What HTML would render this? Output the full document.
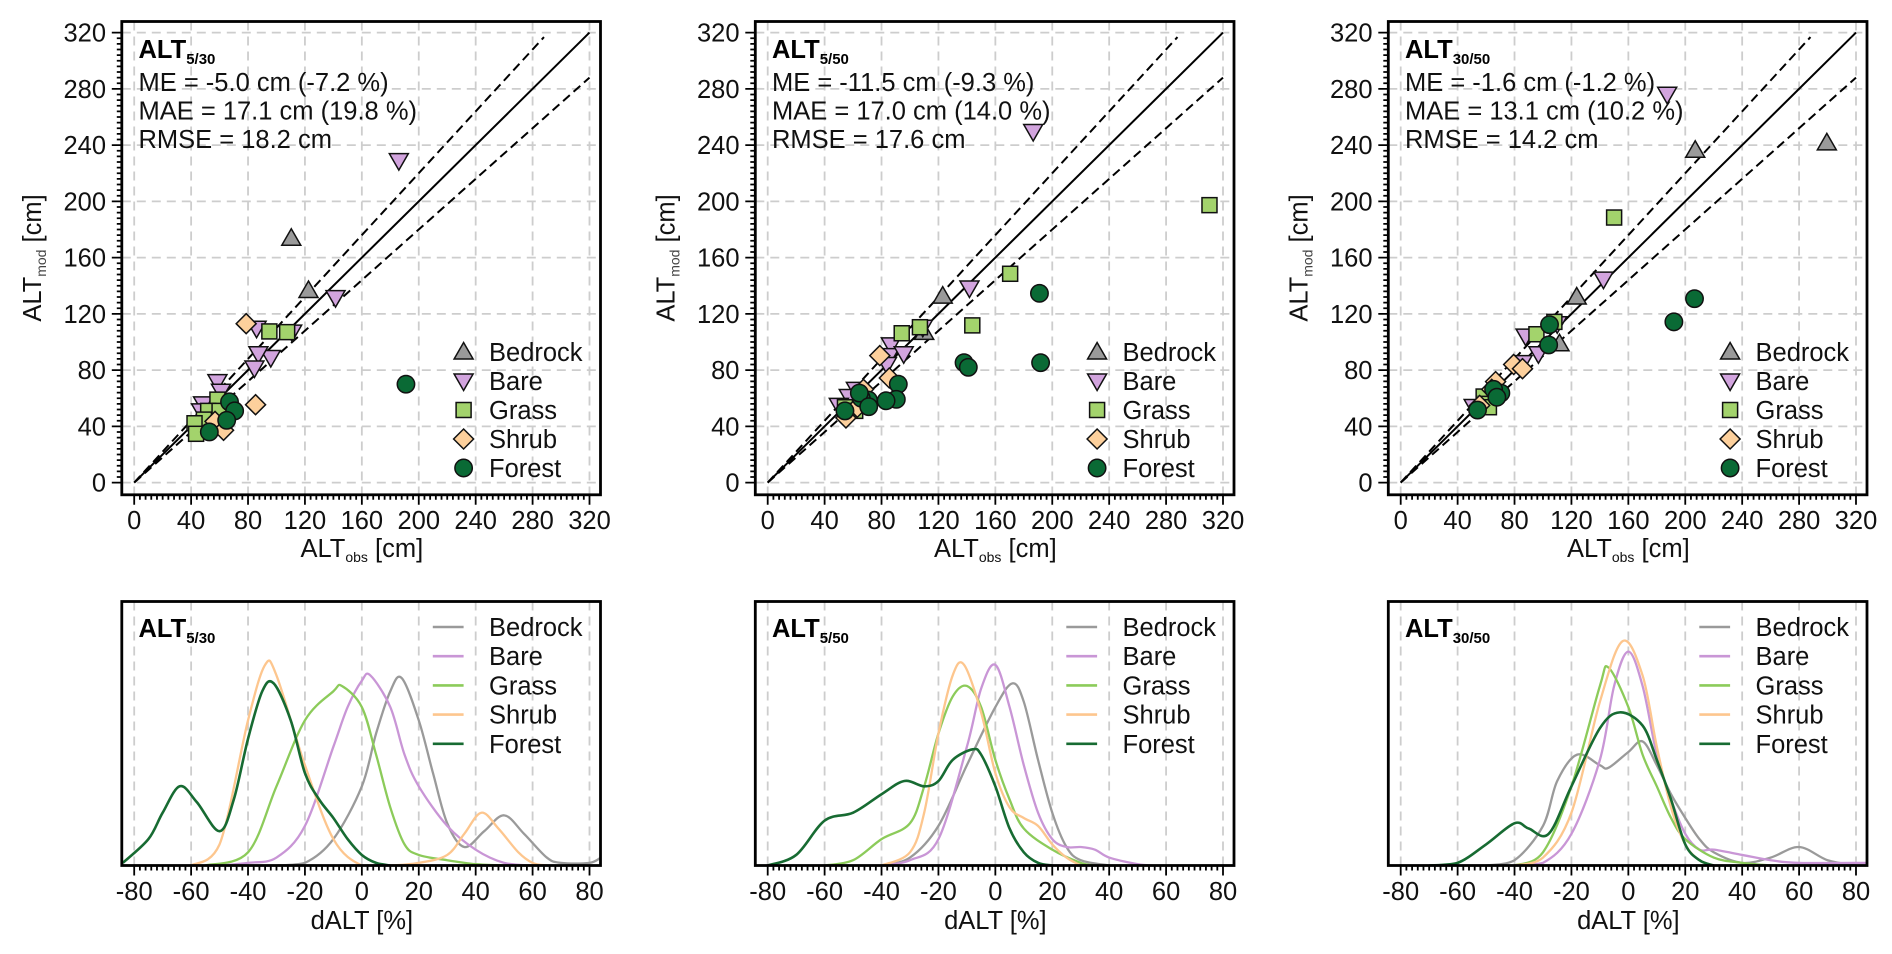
<!DOCTYPE html>
<html><head><meta charset="utf-8"><style>
html,body{margin:0;padding:0;background:#fff}
svg{display:block;font-family:"Liberation Sans",Arial,sans-serif}
</style></head><body>
<svg id="fig" width="1892" height="954" viewBox="0 0 1892 954" xmlns="http://www.w3.org/2000/svg"></svg>
<script>
// ---------- data ----------
const panelTitles = ["5/30", "5/50", "30/50"];
const statsME   = ["ME = -5.0 cm (-7.2 %)", "ME = -11.5 cm (-9.3 %)", "ME = -1.6 cm (-1.2 %)"];
const statsMAE  = ["MAE = 17.1 cm (19.8 %)", "MAE = 17.0 cm (14.0 %)", "MAE = 13.1 cm (10.2 %)"];
const statsRMSE = ["RMSE = 18.2 cm", "RMSE = 17.6 cm", "RMSE = 14.2 cm"];
const classes = ["Bedrock", "Bare", "Grass", "Shrub", "Forest"];
const scatterTicks = [0,40,80,120,160,200,240,280,320];
const densTicks = [-80,-60,-40,-20,0,20,40,60,80];

const p1Bedrock = [[110.4,173.8],[122.5,136.6]];
const p1Bare = [[186,229],[141.5,131.5],[86,109.8],[96,89],[87.3,91.6],[84.5,81.5],[58.5,71.8],[61,65],[48.4,56],[47,51],[111,107]];
const p1Grass = [[95,107.5],[107.5,107],[58.5,59],[52,51],[49,44.8],[42.4,42.2],[43.5,34.7],[60,51]];
const p1Shrub = [[78.7,113],[85.3,55.4],[56.8,43.5],[62.8,37.2]];
const p1Forest = [[191,70],[67,57.4],[70.6,51],[65,44.3],[52.8,36]];

const p2Bedrock = [[123,132.6],[110,106.8]];
const p2Bare = [[186.6,249.7],[141.8,138.4],[86.6,97.9],[85.5,90.3],[95.6,91.6],[83.8,84],[109,110.5],[62,66.3],[57,61.2],[50,54.9]];
const p2Grass = [[310.5,197.3],[170.4,148.5],[143.8,111.8],[94.2,106.2],[107,110.5],[54.3,53.6],[61.5,51]];
const p2Shrub = [[78.8,90.3],[85.5,74.4],[67.3,66.3],[55,46],[63,53.6]];
const p2Forest = [[191,134.6],[191.8,85.3],[138,85.3],[141,82],[91.8,70],[90.4,59.2],[83.2,58.2],[70.8,58.7],[65.8,60],[64.4,63.7],[71,54],[54.3,51]];

const p3Bedrock = [[299.5,241.6],[207,236.3],[123.7,132],[111.6,98.7]];
const p3Bare = [[187.3,276.2],[142.5,144.7],[87.8,104.2],[96.8,91.6],[85.6,85.3],[110,113],[51.3,54.1]];
const p3Grass = [[150,188.5],[95.4,105.5],[108,114.3],[58.3,61.2],[59.7,56],[62,53.6]];
const p3Shrub = [[79.4,84],[85.6,81],[66.7,71.8],[64,66.3],[55.5,54.9]];
const p3Forest = [[192,114.3],[206.5,130.8],[104.6,112.3],[104,97.9],[70.4,63.7],[65.3,66.3],[67.6,60.7],[54,51.6]];

const d1Bedrock = [[-30,0],[-20,0.01],[-10,0.1],[0,0.3],[5,0.5],[10,0.66],[14,0.71],[20,0.55],[25,0.35],[30,0.16],[36,0.07],[43,0.13],[50,0.19],[57,0.12],[65,0.03],[70,0.01],[80,0.01],[84,0.03]];
const d1Bare = [[-50,0],[-40,0.01],[-30,0.03],[-20,0.15],[-10,0.45],[-5,0.6],[0,0.7],[3,0.72],[10,0.6],[15,0.42],[20,0.3],[30,0.15],[40,0.06],[50,0.01],[60,0]];
const d1Grass = [[-55,0],[-40,0.05],[-30,0.3],[-20,0.55],[-10,0.66],[-7,0.68],[0,0.6],[5,0.42],[10,0.22],[15,0.08],[20,0.04],[30,0.02],[40,0.005],[50,0]];
const d1Shrub = [[-60,0],[-50,0.08],[-40,0.55],[-34,0.76],[-30,0.72],[-20,0.38],[-10,0.1],[0,0],[10,0],[20,0.01],[30,0.04],[36,0.12],[42,0.2],[48,0.14],[55,0.05],[60,0.01],[65,0]];
const d1Forest = [[-84,0.01],[-75,0.1],[-70,0.2],[-64,0.3],[-58,0.24],[-50,0.13],[-45,0.25],[-40,0.48],[-35,0.66],[-31,0.69],[-25,0.55],[-20,0.35],[-15,0.25],[-10,0.18],[-5,0.1],[0,0.04],[5,0.01],[10,0]];

const d2Bedrock = [[-40,0],[-30,0.03],[-20,0.15],[-10,0.38],[0,0.6],[6,0.69],[10,0.62],[15,0.4],[20,0.2],[25,0.07],[30,0.02],[40,0]];
const d2Bare = [[-40,0],[-30,0.02],[-20,0.1],[-10,0.45],[-5,0.67],[0,0.76],[5,0.6],[10,0.38],[15,0.2],[20,0.1],[25,0.07],[30,0.07],[35,0.06],[40,0.03],[50,0.005],[55,0]];
const d2Grass = [[-60,0],[-50,0.02],[-40,0.1],[-30,0.16],[-25,0.3],[-20,0.5],[-15,0.64],[-10,0.68],[-5,0.6],[0,0.4],[5,0.25],[10,0.14],[20,0.06],[30,0.01],[35,0]];
const d2Shrub = [[-40,0],[-30,0.05],[-25,0.2],[-20,0.5],[-15,0.72],[-11,0.76],[-5,0.58],[0,0.35],[5,0.22],[10,0.18],[15,0.15],[20,0.08],[25,0.03],[30,0]];
const d2Forest = [[-80,0],[-70,0.04],[-60,0.17],[-50,0.2],[-40,0.27],[-32,0.32],[-25,0.3],[-20,0.32],[-15,0.4],[-8,0.44],[-5,0.42],[0,0.3],[5,0.14],[10,0.05],[15,0.01],[20,0]];

const d3Bedrock = [[-50,0],[-40,0.02],[-30,0.15],[-25,0.32],[-18,0.42],[-10,0.38],[-7,0.37],[0,0.43],[5,0.47],[10,0.38],[15,0.27],[20,0.18],[25,0.1],[30,0.05],[40,0.01],[50,0.03],[60,0.07],[70,0.02],[80,0]];
const d3Bare = [[-40,0],[-30,0.01],[-20,0.12],[-10,0.4],[-5,0.68],[0,0.81],[5,0.68],[10,0.42],[15,0.25],[20,0.12],[25,0.06],[30,0.06],[40,0.04],[50,0.02],[60,0.01],[84,0.01]];
const d3Grass = [[-40,0],[-30,0.05],[-20,0.3],[-10,0.68],[-7,0.75],[0,0.6],[5,0.42],[10,0.3],[15,0.18],[20,0.1],[30,0.03],[40,0.01],[50,0]];
const d3Shrub = [[-40,0],[-30,0.03],[-20,0.2],[-10,0.62],[-2,0.85],[5,0.72],[10,0.45],[15,0.22],[20,0.08],[25,0.02],[30,0]];
const d3Forest = [[-70,0],[-60,0.01],[-50,0.08],[-40,0.16],[-35,0.14],[-28,0.12],[-20,0.3],[-10,0.52],[-3,0.58],[5,0.53],[10,0.4],[15,0.25],[20,0.08],[25,0.02],[30,0]];

const scatterData = [[p1Bedrock,p1Bare,p1Grass,p1Shrub,p1Forest],[p2Bedrock,p2Bare,p2Grass,p2Shrub,p2Forest],[p3Bedrock,p3Bare,p3Grass,p3Shrub,p3Forest]];
const densData = [[d1Bedrock,d1Bare,d1Grass,d1Shrub,d1Forest],[d2Bedrock,d2Bare,d2Grass,d2Shrub,d2Forest],[d3Bedrock,d3Bare,d3Grass,d3Shrub,d3Forest]];

// ---------- style ----------
const fillCol = ["#9a9a9a","#d2a4de","#a3d36c","#fdd09c","#0a6a35"];
const lineCol = ["#9a9a9a","#c996d6","#8ccb5a","#fdc68e","#176b32"];
const panelOffset = [0, 633.5, 1266.5];
const FS = 25.5;
const NS = "http://www.w3.org/2000/svg";
const svg = document.getElementById("fig");
function mk(tag, attrs, parent){
  const e = document.createElementNS(NS, tag);
  for (const k in attrs) e.setAttribute(k, attrs[k]);
  (parent||svg).appendChild(e);
  return e;
}
const TX0 = 134.2, TXS = 455.3/320, TY0 = 482.6, TYS = 450/320;
const FL = 121.8, FR = 600.5, FT = 21.5, FB = 494.8;
const BFT = 601.5, BFB = 865.5, BH = 264;
function sx(ox, v){ return ox + TX0 + v*TXS; }
function sy(v){ return TY0 - v*TYS; }
function dx(ox, v){ return ox + TX0 + (v+80)*(455.3/160); }
function dy(f){ return BFB - f*BH; }

function marker(g, k, x, y){
  const st = {fill: fillCol[k], stroke:"#111", "stroke-width":1.5};
  let e;
  if (k===0) e = mk("polygon", Object.assign({points:`${x},${y-9.5} ${x+9.5},${y+7} ${x-9.5},${y+7}`}, st), g);
  else if (k===1) e = mk("polygon", Object.assign({points:`${x-9.5},${y-7} ${x+9.5},${y-7} ${x},${y+9.5}`}, st), g);
  else if (k===2) e = mk("rect", Object.assign({x:x-7.5,y:y-7.5,width:15,height:15}, st), g);
  else if (k===3) e = mk("polygon", Object.assign({points:`${x},${y-10} ${x+10},${y} ${x},${y+10} ${x-10},${y}`}, st), g);
  else e = mk("circle", Object.assign({cx:x,cy:y,r:8.7}, st), g);
  return e;
}
function smoothPath(pts){
  let d = `M${pts[0][0]},${pts[0][1]}`;
  for (let i=0;i<pts.length-1;i++){
    const p0=pts[Math.max(0,i-1)], p1=pts[i], p2=pts[i+1], p3=pts[Math.min(pts.length-1,i+2)];
    const c1x=p1[0]+(p2[0]-p0[0])/6, c1y=p1[1]+(p2[1]-p0[1])/6;
    const c2x=p2[0]-(p3[0]-p1[0])/6, c2y=p2[1]-(p3[1]-p1[1])/6;
    d += ` C${c1x},${Math.min(c1y,BFB)} ${c2x},${Math.min(c2y,BFB)} ${p2[0]},${p2[1]}`;
  }
  return d;
}
function titleText(g, x, y, sub){
  const t = mk("text",{x:x,y:y,"font-size":FS,"font-weight":"bold",fill:"#000"},g);
  
  
  t.appendChild(document.createTextNode("ALT"));
  const s = mk("tspan",{"font-size":15,dy:6},t); s.textContent = sub;
}

const defs = mk("defs",{});
for (let p=0;p<3;p++){
  const ox = panelOffset[p];
  const cp = mk("clipPath",{id:"clipT"+p},defs); mk("rect",{x:ox+FL,y:FT,width:FR-FL,height:FB-FT},cp);
  const cb = mk("clipPath",{id:"clipB"+p},defs); mk("rect",{x:ox+FL,y:BFT,width:FR-FL,height:BFB-BFT},cb);

  const g = mk("g",{});
  
  
  scatterTicks.forEach(v=>{
    const gl1 = mk("line",{x1:sx(ox,v),x2:sx(ox,v),y1:FT,y2:FB,stroke:"#cdcdcd","stroke-width":1.8,"stroke-dasharray":"9,6"},g);
    
    
    const gl2 = mk("line",{x1:ox+FL,x2:ox+FR,y1:sy(v),y2:sy(v),stroke:"#cdcdcd","stroke-width":1.8,"stroke-dasharray":"9,6"},g);
    
    
  });
  const cg = mk("g",{"clip-path":`url(#clipT${p})`},g);
  const l1 = mk("line",{x1:sx(ox,0),y1:sy(0),x2:sx(ox,320),y2:sy(320),stroke:"#000","stroke-width":2},cg);
  
  
  const l2 = mk("line",{x1:sx(ox,0),y1:sy(0),x2:sx(ox,288),y2:sy(316.8),stroke:"#000","stroke-width":2,"stroke-dasharray":"9,5"},cg);
  
  
  const l3 = mk("line",{x1:sx(ox,0),y1:sy(0),x2:sx(ox,320),y2:sy(288),stroke:"#000","stroke-width":2,"stroke-dasharray":"9,5"},cg);
  
  
  for (let k=0;k<5;k++){
    scatterData[p][k].forEach(pt=>{
      const m = marker(cg, k, sx(ox,pt[0]), sy(pt[1]));
      
      
    });
  }
  const fr = mk("rect",{x:ox+FL,y:FT,width:FR-FL,height:FB-FT,fill:"none",stroke:"#000","stroke-width":2.8},g);
  
  
  let td = "";
  for (let v=0; v<=320; v+=4){
    const len = (v%40===0)?10:5;
    td += `M${sx(ox,v)},${FB}v${len}`;
    td += `M${ox+FL},${sy(v)}h${-len}`;
  }
  const tk = mk("path",{d:td,stroke:"#000","stroke-width":1.8,fill:"none"},g);
  
  
  scatterTicks.forEach(v=>{
    const a = mk("text",{x:sx(ox,v),y:529,"font-size":FS,"text-anchor":"middle",fill:"#111"},g);
    
    
    a.textContent = v;
    const b = mk("text",{x:ox+106,y:sy(v)+9,"font-size":FS,"text-anchor":"end",fill:"#111"},g);
    
    
    b.textContent = v;
  });
  const xt = mk("text",{x:sx(ox,160),y:557,"font-size":FS,"text-anchor":"middle",fill:"#111"},g);
  
  
  xt.appendChild(document.createTextNode("ALT"));
  const xs = mk("tspan",{"font-size":14,dy:5},xt); xs.textContent="obs";
  const xs2 = mk("tspan",{dy:-5},xt); xs2.textContent=" [cm]";
  const yt = mk("text",{x:0,y:0,"font-size":FS,"text-anchor":"middle",fill:"#111",transform:`translate(${ox+41},258) rotate(-90)`},g);
  
  
  yt.appendChild(document.createTextNode("ALT"));
  const ys = mk("tspan",{"font-size":14,dy:5,fill:"#444"},yt); ys.textContent="mod";
  const ys2 = mk("tspan",{dy:-5},yt); ys2.textContent=" [cm]";
  titleText(g, ox+138.5, 58, panelTitles[p]);
  [statsME[p],statsMAE[p],statsRMSE[p]].forEach((s,i)=>{
    const t = mk("text",{x:ox+138.5,y:91+i*28.5,"font-size":FS,fill:"#111"},g);
    
    
    t.textContent = s;
  });
  for (let k=0;k<5;k++){
    const ly = 352 + k*29;
    const m = marker(g, k, ox+463.6, ly);
    
    
    const t = mk("text",{x:ox+489,y:ly+9,"font-size":FS,fill:"#111"},g);
    
    
    t.textContent = classes[k];
  }

  const h = mk("g",{});
  
  
  densTicks.forEach(v=>{
    const gl = mk("line",{x1:dx(ox,v),x2:dx(ox,v),y1:BFT,y2:BFB,stroke:"#cdcdcd","stroke-width":1.8,"stroke-dasharray":"9,6"},h);
    
    
  });
  const dg = mk("g",{"clip-path":`url(#clipB${p})`},h);
  for (let k=0;k<5;k++){
    const pts = densData[p][k].map(q=>[dx(ox,q[0]), dy(q[1])]);
    const c = mk("path",{d:smoothPath(pts),fill:"none",stroke:lineCol[k],"stroke-width":k===4?2.6:2.3},dg);
    
    
  }
  const fb = mk("rect",{x:ox+FL,y:BFT,width:FR-FL,height:BFB-BFT,fill:"none",stroke:"#000","stroke-width":2.8},h);
  
  
  let bd = "";
  for (let v=-80; v<=80; v+=2){
    bd += `M${dx(ox,v)},${BFB}v${(v%20===0)?10:5}`;
  }
  const btk = mk("path",{d:bd,stroke:"#000","stroke-width":1.8,fill:"none"},h);
  
  
  densTicks.forEach(v=>{
    const a = mk("text",{x:dx(ox,v),y:900,"font-size":FS,"text-anchor":"middle",fill:"#111"},h);
    
    
    a.textContent = v;
  });
  const bx = mk("text",{x:dx(ox,0),y:929,"font-size":FS,"text-anchor":"middle",fill:"#111"},h);
  
  
  bx.textContent = "dALT [%]";
  titleText(h, ox+138.5, 637, panelTitles[p]);
  for (let k=0;k<5;k++){
    const ly = 627 + k*29.2;
    const ln = mk("line",{x1:ox+432.8,x2:ox+463.6,y1:ly,y2:ly,stroke:lineCol[k],"stroke-width":2.6},h);
    
    
    const t = mk("text",{x:ox+489,y:ly+9,"font-size":FS,fill:"#111"},h);
    
    
    t.textContent = classes[k];
  }
}
</script>
</body></html>
